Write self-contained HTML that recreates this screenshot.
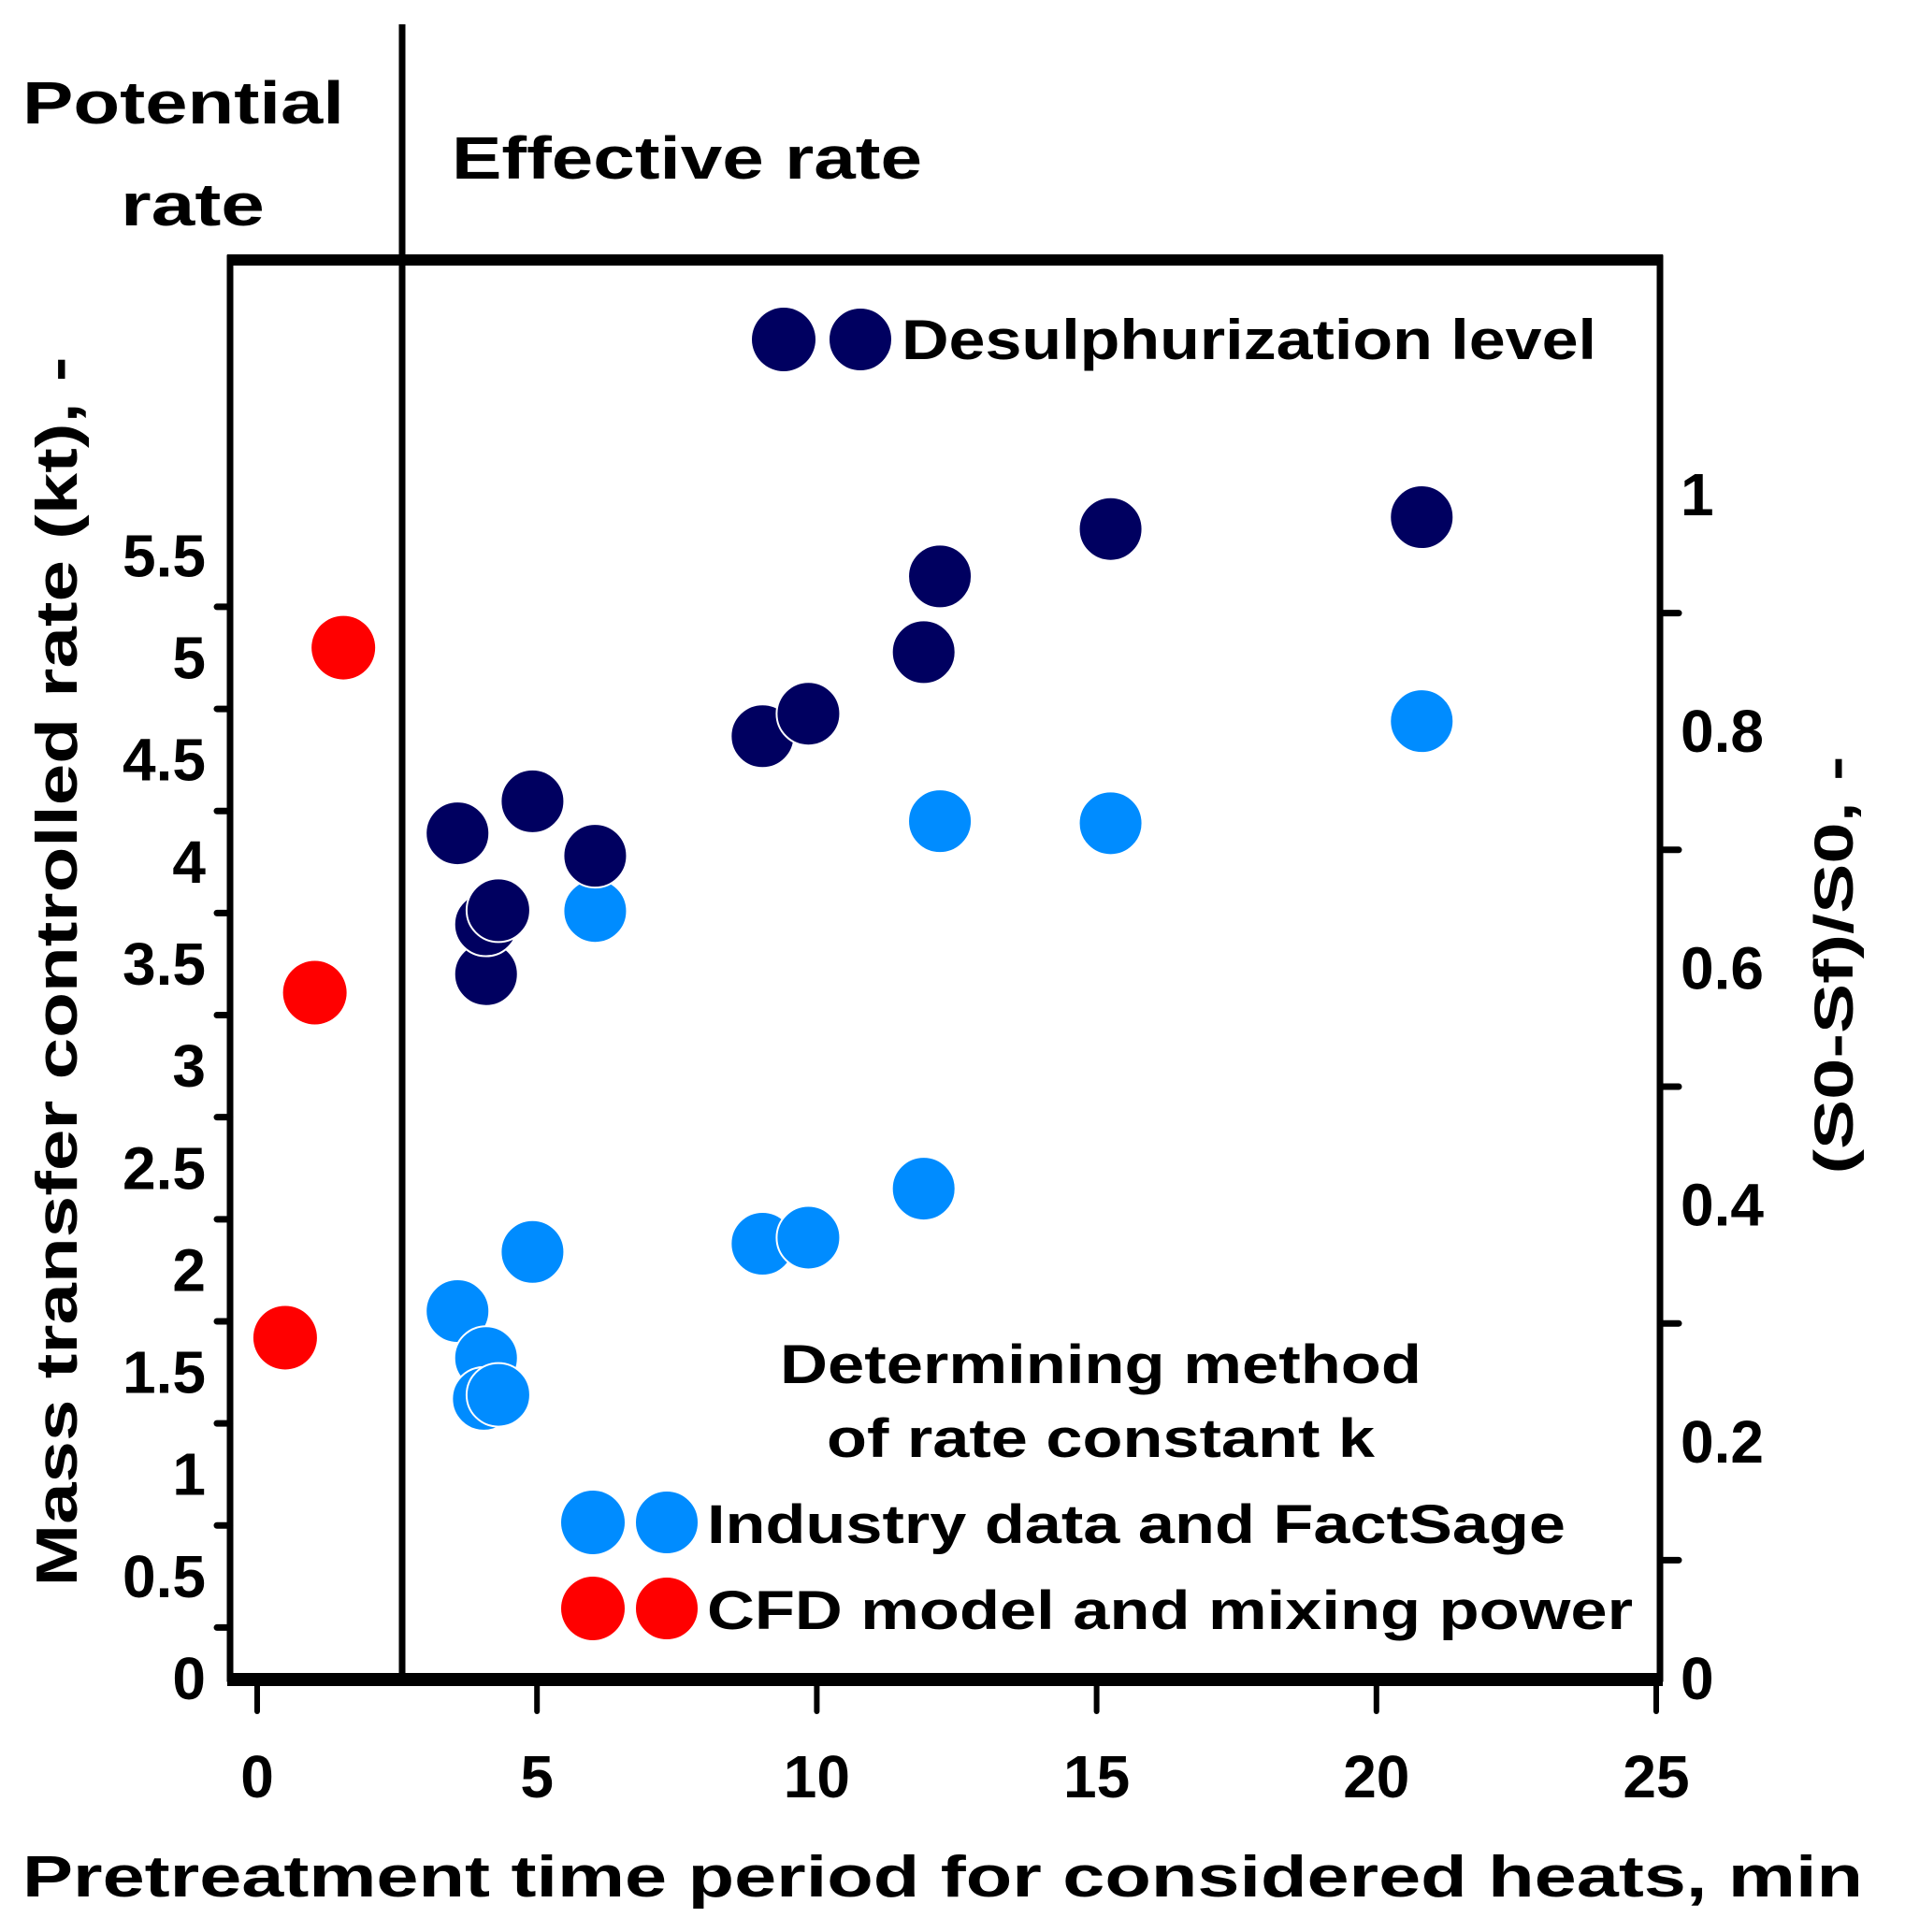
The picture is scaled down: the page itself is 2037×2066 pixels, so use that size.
<!DOCTYPE html>
<html><head><meta charset="utf-8"><style>
html,body{margin:0;padding:0;background:#fff;}
svg{display:block;}
text{font-family:"Liberation Sans","DejaVu Sans",sans-serif;font-weight:bold;fill:#000;}
</style></head><body>
<svg id="chart" width="2037" height="2066" viewBox="0 0 2037 2066" xmlns="http://www.w3.org/2000/svg">
<g id="axes"></g>
<g id="marks"></g>
<g id="labels">
<text x="24" y="132" font-size="64" textLength="344" lengthAdjust="spacingAndGlyphs">Potential</text>
<text x="129" y="241" font-size="64" textLength="154" lengthAdjust="spacingAndGlyphs">rate</text>
<text x="483" y="191" font-size="64" textLength="503" lengthAdjust="spacingAndGlyphs">Effective rate</text>
<text x="24" y="2028" font-size="62" textLength="1968" lengthAdjust="spacingAndGlyphs">Pretreatment time period for considered heats, min</text>
<text transform="translate(82,1039) rotate(-90)" text-anchor="middle" font-size="62" textLength="1315" lengthAdjust="spacingAndGlyphs">Mass transfer controlled rate (kt), -</text>
<text transform="translate(1981,1032) rotate(-90)" text-anchor="middle" font-size="58" textLength="447" lengthAdjust="spacingAndGlyphs">(S0-Sf)/S0, -</text>
<text x="964" y="384" font-size="60" textLength="743" lengthAdjust="spacingAndGlyphs">Desulphurization level</text>
<text x="1177" y="1479" text-anchor="middle" font-size="58" textLength="686" lengthAdjust="spacingAndGlyphs">Determining method</text>
<text x="1177" y="1558" text-anchor="middle" font-size="58" textLength="586" lengthAdjust="spacingAndGlyphs">of rate constant k</text>
<text x="756" y="1650" font-size="58" textLength="918" lengthAdjust="spacingAndGlyphs">Industry data and FactSage</text>
<text x="756" y="1742" font-size="58" textLength="990" lengthAdjust="spacingAndGlyphs">CFD model and mixing power</text>
</g>
<circle cx="838" cy="363" r="34" fill="#000060"/>
<circle cx="920" cy="363" r="34" fill="#000060" stroke="#fff" stroke-width="2"/>
<circle cx="634" cy="1628" r="34" fill="#008cff"/>
<circle cx="713" cy="1628" r="34" fill="#008cff" stroke="#fff" stroke-width="2"/>
<circle cx="634" cy="1720" r="34" fill="#ff0000"/>
<circle cx="713" cy="1720" r="34" fill="#ff0000" stroke="#fff" stroke-width="2"/>
</svg>
<script>
// data
const xTicks = [0, 5, 10, 15, 20, 25];
const leftTicks = [0, 0.5, 1, 1.5, 2, 2.5, 3, 3.5, 4, 4.5, 5, 5.5];
const rightTicks = [0, 0.2, 0.4, 0.6, 0.8, 1];
const desulphX = [3.58, 4.09, 4.09, 4.31, 4.92, 6.04, 9.03, 9.85, 11.91, 12.2, 15.25, 20.81];
const desulphY = [0.714, 0.595, 0.637, 0.649, 0.741, 0.695, 0.796, 0.815, 0.867, 0.931, 0.971, 0.981];
const industryX = [3.58, 4.09, 4.05, 4.31, 4.92, 6.04, 9.03, 9.85, 11.91, 12.2, 15.25, 20.81];
const industryY = [1.80, 1.57, 1.37, 1.39, 2.09, 3.76, 2.13, 2.16, 2.40, 4.20, 4.19, 4.69];
const cfdX = [0.5, 1.03, 1.54];
const cfdY = [1.67, 3.36, 5.05];

const NS = "http://www.w3.org/2000/svg";
const X0 = 275, XPER = (1771 - 275) / 25;
const LY0 = 1795, LPER = 218.3;
const RY0 = 1795, RPER = 1266;
function sx(v){ return X0 + v * XPER; }
function syL(v){ return LY0 - v * LPER; }
function syR(v){ return RY0 - v * RPER; }
function mk(tag, attrs, parent){
  const e = document.createElementNS(NS, tag);
  for (const k in attrs) e.setAttribute(k, attrs[k]);
  parent.appendChild(e); return e;
}
const axes = document.getElementById('axes');
const marks = document.getElementById('marks');
const labels = document.getElementById('labels');

let e;
e = mk('rect', {x:246, y:276, width:1529, height:1519, fill:'none', stroke:'#000', 'stroke-width':7}, axes);


e = mk('line', {x1:243, y1:278, x2:1778, y2:278, stroke:'#000', 'stroke-width':12}, axes);


e = mk('line', {x1:243, y1:1796, x2:1778, y2:1796, stroke:'#000', 'stroke-width':14}, axes);


e = mk('line', {x1:430, y1:26, x2:430, y2:1795, stroke:'#000', 'stroke-width':7}, axes);



xTicks.forEach(function(t){
  const x = sx(t);
  const l = mk('line', {x1:x, y1:1796, x2:x, y2:1830, stroke:'#000', 'stroke-width':6, 'stroke-linecap':'round'}, axes);
  
  
  const tx = mk('text', {x:x, y:1922, 'text-anchor':'middle', 'font-size':64}, labels);
  tx.textContent = t;
  
  
});
leftTicks.forEach(function(t){
  const y = syL(t);
  const tx = mk('text', {x:220, y:y + 22, 'text-anchor':'end', 'font-size':64}, labels);
  tx.textContent = t;
  
  
  if (t < 5.5) {
    const ty = syL(t + 0.25);
    const l = mk('line', {x1:232, y1:ty, x2:246, y2:ty, stroke:'#000', 'stroke-width':7, 'stroke-linecap':'round'}, axes);
    
    
  }
});
rightTicks.forEach(function(t){
  const y = syR(t);
  const tx = mk('text', {x:1797, y:y + 22, 'font-size':64}, labels);
  tx.textContent = t;
  
  
  if (t < 1) {
    const ty = syR(t + 0.1);
    const l = mk('line', {x1:1775, y1:ty, x2:1795, y2:ty, stroke:'#000', 'stroke-width':7, 'stroke-linecap':'round'}, axes);
    
    
  }
});

industryX.forEach(function(v, i){
  const c = mk('circle', {cx:sx(v), cy:syL(industryY[i]), r:34, fill:'#008cff', stroke:'#fff', 'stroke-width':2}, marks);
  
  
});
desulphX.forEach(function(v, i){
  const c = mk('circle', {cx:sx(v), cy:syR(desulphY[i]), r:34, fill:'#000060', stroke:'#fff', 'stroke-width':2}, marks);
  
  
});
cfdX.forEach(function(v, i){
  const c = mk('circle', {cx:sx(v), cy:syL(cfdY[i]), r:34, fill:'#ff0000'}, marks);
  
  
});
</script>
</body></html>
